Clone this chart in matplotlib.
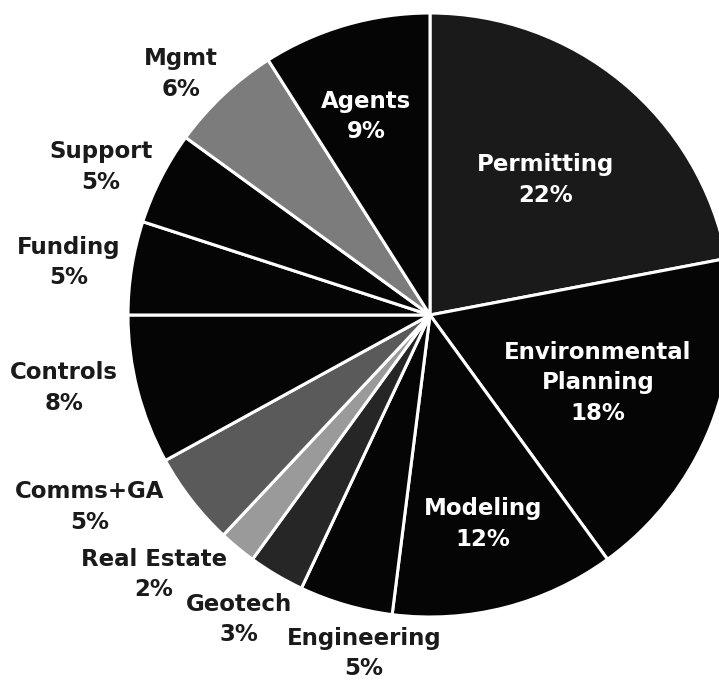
import matplotlib
matplotlib.use("Agg")
import matplotlib.pyplot as plt

categories = ["Permitting", "Environmental\nPlanning", "Modeling", "Engineering", "Geotech",
              "Real Estate", "Comms+GA", "Controls", "Funding", "Support", "Mgmt", "Agents"]
values = [22, 18, 12, 5, 3, 2, 5, 8, 5, 5, 6, 9]
colors = ["#1a1a1a", "#050505", "#050505", "#050505", "#262626",
          "#9a9a9a", "#5a5a5a", "#050505", "#050505", "#050505", "#7c7c7c", "#050505"]
inside = [True, True, True, False, False, False, False, False, False, False, False, True]
label_pos = [(0.384, 0.447), (0.556, -0.225), (0.175, -0.692), (-0.219, -1.122),
             (-0.632, -1.007), (-0.914, -0.858), (-1.126, -0.636), (-1.212, -0.242),
             (-1.195, 0.175), (-1.089, 0.490), (-0.825, 0.798), (-0.212, 0.656)]

W, H = 719, 680
fig = plt.figure(figsize=(W / 100, H / 100), dpi=100)
ax = fig.add_axes([0, 0, 1, 1])
cx, cy, R = 430, 315, 302
ax.pie(values, colors=colors, startangle=90, counterclock=False, radius=1.0,
       wedgeprops=dict(edgecolor="white", linewidth=2.2))
ax.set_xlim(-cx / R, (W - cx) / R)
ax.set_ylim(-(H - cy) / R, cy / R)
ax.set_aspect("equal")
ax.axis("off")

for cat, v, ins, (x, y) in zip(categories, values, inside, label_pos):
    ax.text(x, y, f"{cat}\n{v}%", ha="center", va="center",
            color="white" if ins else "#1a1a1a", fontsize=16.5, fontweight="bold",
            family="DejaVu Sans", linespacing=1.4)

fig.savefig("out.png", dpi=100)
